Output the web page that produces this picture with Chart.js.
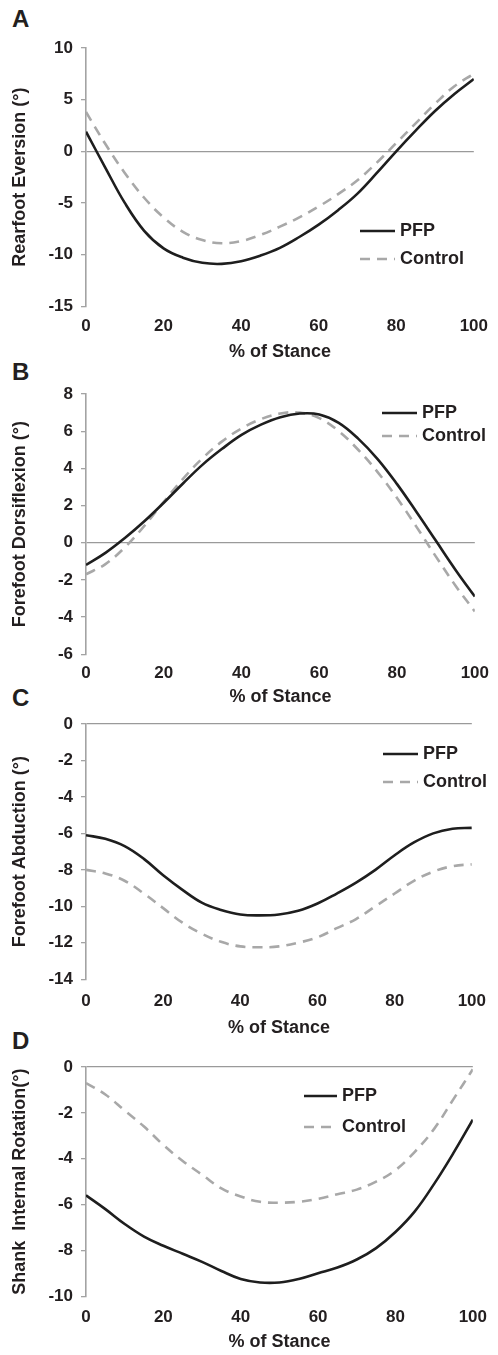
<!DOCTYPE html>
<html>
<head>
<meta charset="utf-8">
<script src="https://cdn.jsdelivr.net/npm/chart.js@4.4.1/dist/chart.umd.min.js"></script>
<style>
  body { margin: 0; background: #fff; width: 498px; height: 1355px; position: relative; overflow: hidden; }
  canvas { position: absolute; left: 0; }
  .tag { position: absolute; left: 12px; font: bold 24px "Liberation Sans", Arial, sans-serif; color: #231f20; line-height: 24px; }
</style>
</head>
<body>
<div class="tag" style="top:7px">A</div>
<div class="tag" style="top:360px">B</div>
<div class="tag" style="top:686px">C</div>
<div class="tag" style="top:1029px">D</div>

<canvas id="chartA"></canvas>
<canvas id="chartB"></canvas>
<canvas id="chartC"></canvas>
<canvas id="chartD"></canvas>

<script>
const stance = [0, 5, 10, 15, 20, 25, 30, 35, 40, 45, 50, 55, 60, 65, 70, 75, 80, 85, 90, 95, 100];
const seriesNames = ["PFP", "Control"];

const rearfootPFP = [1.9, -1.6, -5.0, -7.7, -9.4, -10.3, -10.8, -10.9, -10.65, -10.1, -9.35, -8.3, -7.1, -5.7, -4.1, -2.1, 0.0, 2.0, 3.9, 5.55, 7.0];
const rearfootControl = [3.8, 0.7, -2.1, -4.5, -6.4, -7.8, -8.6, -8.9, -8.7, -8.1, -7.3, -6.4, -5.35, -4.15, -2.8, -1.1, 0.8, 2.7, 4.6, 6.3, 7.5];

const dorsiPFP = [-1.2, -0.55, 0.25, 1.15, 2.15, 3.2, 4.2, 5.05, 5.8, 6.35, 6.75, 6.95, 6.9, 6.45, 5.6, 4.5, 3.15, 1.65, 0.1, -1.45, -2.9];
const dorsiControl = [-1.7, -1.15, -0.25, 0.9, 2.2, 3.45, 4.55, 5.45, 6.15, 6.65, 6.95, 7.0, 6.7, 6.0, 5.0, 3.8, 2.4, 0.85, -0.75, -2.3, -3.7];

const abductPFP = [-6.1, -6.3, -6.7, -7.4, -8.3, -9.1, -9.8, -10.2, -10.45, -10.5, -10.45, -10.25, -9.85, -9.3, -8.7, -8.0, -7.2, -6.5, -6.0, -5.75, -5.7];
const abductControl = [-8.0, -8.2, -8.6, -9.3, -10.1, -10.9, -11.5, -11.95, -12.2, -12.25, -12.2, -12.0, -11.7, -11.2, -10.7, -10.0, -9.3, -8.6, -8.1, -7.8, -7.7];

const shankPFP = [-5.6, -6.2, -6.85, -7.4, -7.8, -8.15, -8.5, -8.9, -9.25, -9.4, -9.4, -9.25, -9.0, -8.75, -8.4, -7.9, -7.2, -6.3, -5.1, -3.75, -2.3];
const shankControl = [-0.7, -1.2, -1.9, -2.6, -3.4, -4.1, -4.7, -5.3, -5.65, -5.88, -5.92, -5.88, -5.75, -5.55, -5.35, -5.0, -4.5, -3.7, -2.7, -1.4, -0.1];

const FONT = '"Liberation Sans", Arial, sans-serif';
const TEXT = "#231f20";
const AXIS = "#a3a3a3";

// draws the little legend inside the plot
const insideLegend = {
  id: "insideLegend",
  afterDraw(chart, args, opts) {
    const ctx = chart.ctx;
    ctx.save();
    chart.data.datasets.forEach((ds, i) => {
      const y = opts.y + i * opts.gap;
      ctx.strokeStyle = ds.borderColor;
      ctx.lineWidth = ds.borderWidth;
      ctx.setLineDash(ds.borderDash || []);
      ctx.beginPath();
      ctx.moveTo(opts.x, y);
      ctx.lineTo(opts.x + opts.len, y);
      ctx.stroke();
      ctx.setLineDash([]);
      ctx.fillStyle = TEXT;
      ctx.font = "bold 18px " + FONT;
      ctx.textBaseline = "middle";
      ctx.fillText(ds.label, opts.x + opts.len + 5, y);
    });
    ctx.restore();
  }
};

function makePanel(id, p) {
  const canvas = document.getElementById(id);
  const canvasTop = p.top - 30;
  const xH = p.titleY - p.bottom + 10.8;
  const h = Math.ceil(30 + (p.bottom - p.top) + xH);
  canvas.width = 498;
  canvas.height = h;
  canvas.style.top = canvasTop + "px";

  new Chart(canvas.getContext("2d"), {
    type: "line",
    data: {
      labels: stance,
      datasets: [
        {
          label: seriesNames[0],
          data: p.pfp,
          borderColor: "#1e1e1e",
          borderWidth: 2.6,
          tension: 0.4
        },
        {
          label: seriesNames[1],
          data: p.control,
          borderColor: "#a8a8a8",
          borderWidth: 2.6,
          borderDash: [10, 7],
          tension: 0.4
        }
      ]
    },
    options: {
      responsive: false,
      animation: false,
      layout: { padding: { top: 30, right: 498 - p.right, left: 0, bottom: 0 } },
      elements: { point: { radius: 0 } },
      plugins: {
        legend: { display: false },
        tooltip: { enabled: false },
        insideLegend: { x: p.legX, y: p.legY - canvasTop, gap: p.legGap, len: p.legLen }
      },
      scales: {
        x: {
          type: "linear",
          min: 0,
          max: 100,
          ticks: { stepSize: 20, padding: p.xPad, color: TEXT, font: { size: 17, weight: "bold", family: FONT } },
          grid: { display: false, drawTicks: false },
          border: { display: false },
          title: { display: true, text: "% of Stance", color: TEXT, padding: 0, font: { size: 18, weight: "bold", family: FONT } },
          afterFit: s => { s.height = xH; }
        },
        y: {
          min: p.min,
          max: p.max,
          ticks: { stepSize: p.step, padding: 8, color: TEXT, font: { size: 17, weight: "bold", family: FONT } },
          grid: {
            color: c => (c.tick && c.tick.value === 0 ? "#9a9a9a" : "rgba(0,0,0,0)"),
            lineWidth: 1.3,
            tickColor: AXIS,
            tickLength: 5
          },
          border: { color: AXIS, width: 1.6 },
          title: { display: true, text: p.yTitle, color: TEXT, padding: { top: 9, bottom: 0 }, font: { size: 18, weight: "bold", family: FONT } },
          afterFit: s => { s.width = 86; }
        }
      }
    },
    plugins: [insideLegend]
  });
}

makePanel("chartA", {
  top: 48, bottom: 306, right: 482, titleY: 352, xPad: 10,
  min: -15, max: 10, step: 5, yTitle: "Rearfoot Eversion (°)",
  pfp: rearfootPFP, control: rearfootControl,
  legX: 360, legY: 231, legGap: 28, legLen: 35
});

makePanel("chartB", {
  top: 394, bottom: 654, right: 481, titleY: 697, xPad: 9,
  min: -6, max: 8, step: 2, yTitle: "Forefoot Dorsiflexion (°)",
  pfp: dorsiPFP, control: dorsiControl,
  legX: 382, legY: 413, legGap: 23, legLen: 35
});

makePanel("chartC", {
  top: 724, bottom: 979, right: 482, titleY: 1028, xPad: 12,
  min: -14, max: 0, step: 2, yTitle: "Forefoot Abduction (°)",
  pfp: abductPFP, control: abductControl,
  legX: 383, legY: 754, legGap: 28, legLen: 35
});

makePanel("chartD", {
  top: 1067, bottom: 1296, right: 482, titleY: 1342, xPad: 11,
  min: -10, max: 0, step: 2, yTitle: "Shank  Internal Rotation(°)",
  pfp: shankPFP, control: shankControl,
  legX: 304, legY: 1096, legGap: 31, legLen: 33
});
</script>
</body>
</html>
